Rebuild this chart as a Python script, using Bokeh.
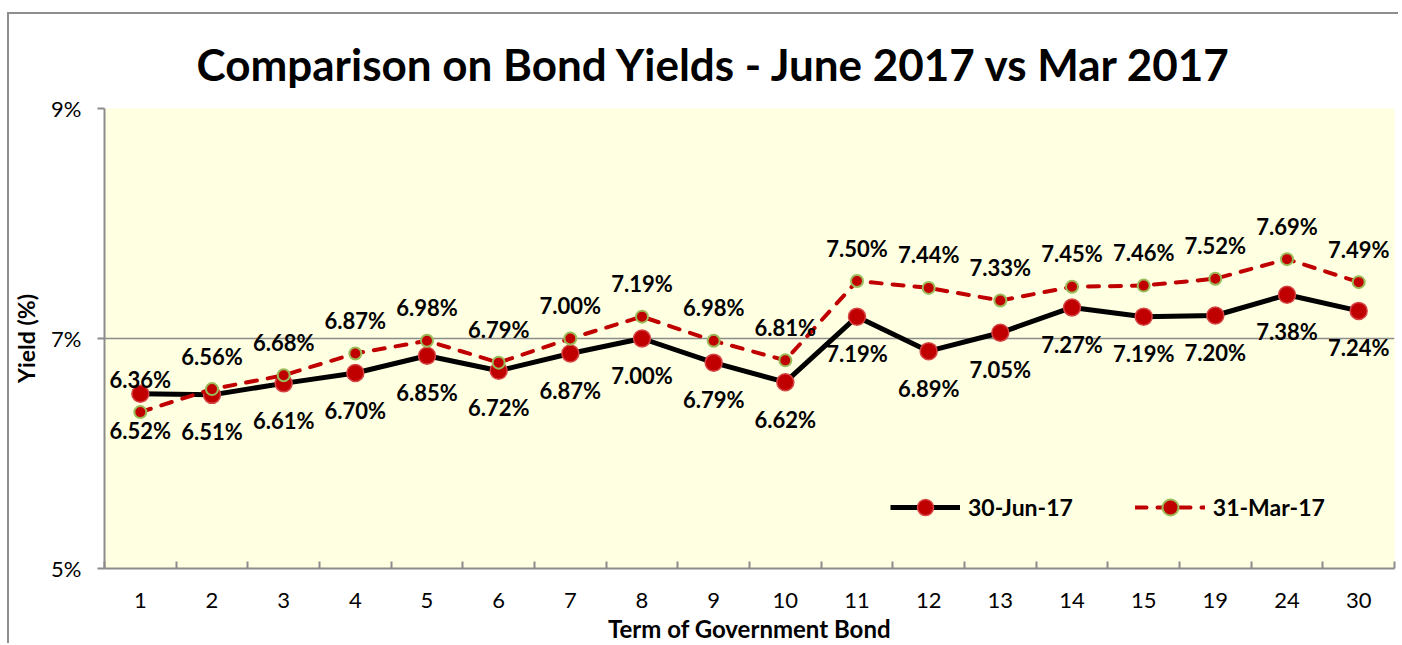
from bokeh.plotting import figure
from bokeh.models import (ColumnDataSource, FixedTicker, LabelSet, Legend, LegendItem, Range1d)
from bokeh.core.properties import value
from bokeh.embed import file_html
from bokeh.resources import INLINE

terms = ["1", "2", "3", "4", "5", "6", "7", "8", "9", "10", "11", "12", "13", "14", "15", "19", "24", "30"]
jun17 = [6.52, 6.51, 6.61, 6.70, 6.85, 6.72, 6.87, 7.00, 6.79, 6.62, 7.19, 6.89, 7.05, 7.27, 7.19, 7.20, 7.38, 7.24]
mar17 = [6.36, 6.56, 6.68, 6.87, 6.98, 6.79, 7.00, 7.19, 6.98, 6.81, 7.50, 7.44, 7.33, 7.45, 7.46, 7.52, 7.69, 7.49]
y_ticks = [5, 7, 9]
y_tick_labels = ["5%", "7%", "9%"]
series_names = ["30-Jun-17", "31-Mar-17"]
title_text = "Comparison on Bond Yields - June 2017 vs Mar 2017"

FONT = "Lato"
RED = "#C00000"
GRAY = "#8C8C8C"

xs = list(range(1, len(terms) + 1))
src = ColumnDataSource(dict(
    x=xs, jun=jun17, mar=mar17,
    jun_lbl=[f"{v:.2f}%" for v in jun17],
    mar_lbl=[f"{v:.2f}%" for v in mar17],
))

p = figure(width=1391, height=631, output_backend="svg", toolbar_location=None,
           x_range=Range1d(0.5, len(terms) + 0.5), y_range=Range1d(5, 9),
           min_border_left=90, min_border_right=6, min_border_top=94, min_border_bottom=77)
p.styles = {"border-left": "2px solid #8E8E8E", "border-top": "2px solid #8E8E8E",
            "margin-left": "7px", "margin-top": "12px"}

p.background_fill_color = "#FFFFE1"
p.border_fill_color = "white"
p.outline_line_color = None

p.title.text = title_text
p.title.align = "left"
p.title.offset = 92
p.title.standoff = 38
p.title.text_font = FONT
p.title.text_font_style = "bold"
p.title.text_font_size = "44px"
p.title.text_color = "black"

# axes
p.xaxis.ticker = FixedTicker(ticks=xs, minor_ticks=[i + 0.5 for i in range(0, len(terms) + 1)])
p.xaxis.major_label_overrides = {i: t for i, t in zip(xs, terms)}
p.xaxis.major_tick_line_color = None
p.xaxis.minor_tick_in = 7
p.xaxis.minor_tick_out = 0
p.xaxis.minor_tick_line_color = GRAY
p.xaxis.minor_tick_line_width = 2
p.xaxis.axis_line_color = GRAY
p.xaxis.axis_line_width = 2
p.xaxis.major_label_standoff = 18
p.xaxis.major_label_text_font = FONT
p.xaxis.major_label_text_font_size = "22px"
p.xaxis.major_label_text_color = "black"
p.xaxis.axis_label = "Term of Government Bond"
p.xaxis.axis_label_text_font = FONT
p.xaxis.axis_label_text_font_style = "bold"
p.xaxis.axis_label_text_font_size = "24px"
p.xaxis.axis_label_text_color = "black"
p.xaxis.axis_label_standoff = 3

p.yaxis.ticker = FixedTicker(ticks=y_ticks)
p.yaxis.major_label_overrides = {t: l for t, l in zip(y_ticks, y_tick_labels)}
p.yaxis.major_tick_in = 0
p.yaxis.major_tick_out = 7
p.yaxis.major_tick_line_color = GRAY
p.yaxis.major_tick_line_width = 2
p.yaxis.axis_line_color = GRAY
p.yaxis.axis_line_width = 2
p.yaxis.major_label_standoff = 16
p.yaxis.major_label_text_font = FONT
p.yaxis.major_label_text_font_size = "22px"
p.yaxis.major_label_text_color = "black"
p.yaxis.axis_label = "Yield (%)"
p.yaxis.axis_label_text_font = FONT
p.yaxis.axis_label_text_font_style = "bold"
p.yaxis.axis_label_text_font_size = "23px"
p.yaxis.axis_label_text_color = "black"
p.yaxis.axis_label_standoff = 8

p.xgrid.grid_line_color = None
p.ygrid.ticker = FixedTicker(ticks=y_ticks)
p.ygrid.grid_line_color = GRAY
p.ygrid.grid_line_width = 1.5

# series
l_jun = p.line("x", "jun", source=src, line_color="black", line_width=5)
m_jun = p.scatter("x", "jun", source=src, size=17, fill_color=RED, line_color="#D64545", line_width=1.5)
l_mar = p.line("x", "mar", source=src, line_color=RED, line_width=4, line_dash="11 11", line_cap="round")
m_mar = p.scatter("x", "mar", source=src, size=12, fill_color=RED, line_color="#9BBB59", line_width=2)

lbl_style = dict(text_font=value(FONT), text_font_style="bold", text_font_size="22px",
                 text_color="black", text_align="center", text_baseline="middle")
p.add_layout(LabelSet(x="x", y="jun", text="jun_lbl", source=src, y_offset=-37, **lbl_style))
p.add_layout(LabelSet(x="x", y="mar", text="mar_lbl", source=src, y_offset=33, **lbl_style))

legend = Legend(items=[LegendItem(label=series_names[0], renderers=[l_jun, m_jun]),
                       LegendItem(label=series_names[1], renderers=[l_mar, m_mar])],
                orientation="horizontal", location=(786, 41),
                glyph_width=70, glyph_height=40, label_standoff=8, spacing=62,
                padding=0, margin=0, background_fill_alpha=0, border_line_color=None,
                label_text_font=FONT, label_text_font_style="bold", label_text_font_size="23px",
                label_text_color="black")
p.add_layout(legend)

open("out.html", "w").write(file_html(p, INLINE))
